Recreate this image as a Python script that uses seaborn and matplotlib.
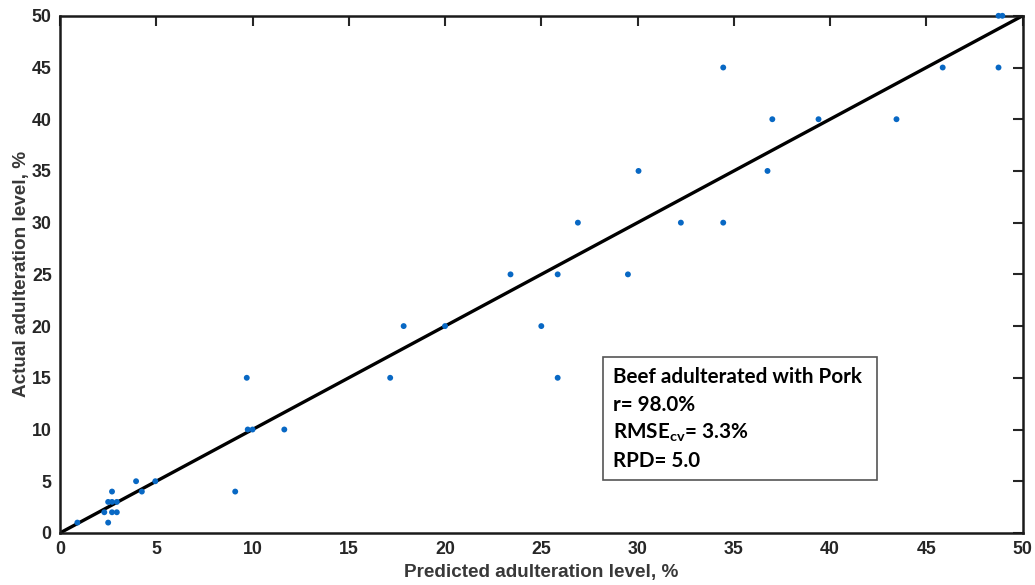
import matplotlib
matplotlib.use("Agg")
import matplotlib.pyplot as plt
import seaborn as sns
import pandas as pd
from matplotlib.patches import Rectangle

# Data (predicted vs actual adulteration level, %)
predicted = [0.9, 2.5, 2.3, 2.7, 2.95, 2.5, 2.7, 2.95, 2.7, 3.95, 4.25, 4.95, 9.1,
             9.7, 9.75, 10.0, 11.65, 17.15, 17.85, 20.0,
             23.4, 25.0, 25.85, 25.85, 26.9, 29.5, 30.05, 32.25, 34.45, 34.45,
             36.75, 37.0, 39.4, 43.45, 45.85, 48.75, 48.75, 48.95]
actual = [1, 1, 2, 2, 2, 3, 3, 3, 4, 5, 4, 5, 4,
          15, 10, 10, 10, 15, 20, 20,
          25, 20, 25, 15, 30, 25, 35, 30, 30, 45,
          35, 40, 40, 40, 45, 45, 50, 50]
ideal_x = [0, 50]
ideal_y = [0, 50]
ticks = [0, 5, 10, 15, 20, 25, 30, 35, 40, 45, 50]
x_label = "Predicted adulteration level, %"
y_label = "Actual adulteration level, %"
box_lines = ["Beef adulterated with Pork", "r= 98.0%",
             r"RMSE$_{\mathbf{cv}}$= 3.3%", "RPD= 5.0"]

sns.set_theme(style="white")
plt.rcParams["font.family"] = ["Liberation Sans", "DejaVu Sans"]
plt.rcParams["mathtext.fontset"] = "custom"
plt.rcParams["mathtext.rm"] = "Lato"
plt.rcParams["mathtext.bf"] = "Lato:bold"
plt.rcParams["mathtext.it"] = "Lato:italic"

df = pd.DataFrame({"pred": predicted, "act": actual})
line_df = pd.DataFrame({"x": ideal_x, "y": ideal_y})

fig = plt.figure(figsize=(10.35, 5.85), dpi=100)
ax = fig.add_axes([0.058, 0.089, 0.930, 0.884])

sns.lineplot(data=line_df, x="x", y="y", ax=ax, color="black", linewidth=2.4,
             zorder=2)
sns.scatterplot(data=df, x="pred", y="act", ax=ax, color="#0868c4", s=18,
                edgecolor="none", zorder=3, clip_on=False)

ax.set_xlim(0, 50)
ax.set_ylim(0, 50)
ax.set_xticks(ticks)
ax.set_yticks(ticks)
ax.tick_params(direction="in", length=7, width=1.5, top=True, right=True,
               labelsize=12.8, labelcolor="#262626", pad=6, color="#262626")
for lab in ax.get_xticklabels() + ax.get_yticklabels():
    lab.set_fontweight("bold")
for sp in ax.spines.values():
    sp.set_color("#1a1a1a")
    sp.set_linewidth(1.8)

ax.set_xlabel(x_label, fontsize=13.6, fontweight="bold", color="#383838",
              labelpad=4)
ax.set_ylabel(y_label, fontsize=13.6, fontweight="bold", color="#383838",
              labelpad=1)

rect = Rectangle((0.564, 0.1025), 0.285, 0.2375, transform=ax.transAxes,
                 facecolor="white", edgecolor="#555555", linewidth=1.2, zorder=4)
ax.add_patch(rect)
ys = [0.302, 0.248, 0.193, 0.139]
for txt, yy in zip(box_lines, ys):
    ax.text(0.574, yy, txt, transform=ax.transAxes, va="center", ha="left",
            fontsize=14.9, fontweight="bold", family=["Lato", "DejaVu Sans"],
            color="black", zorder=5)

fig.savefig("out.png", dpi=100)
